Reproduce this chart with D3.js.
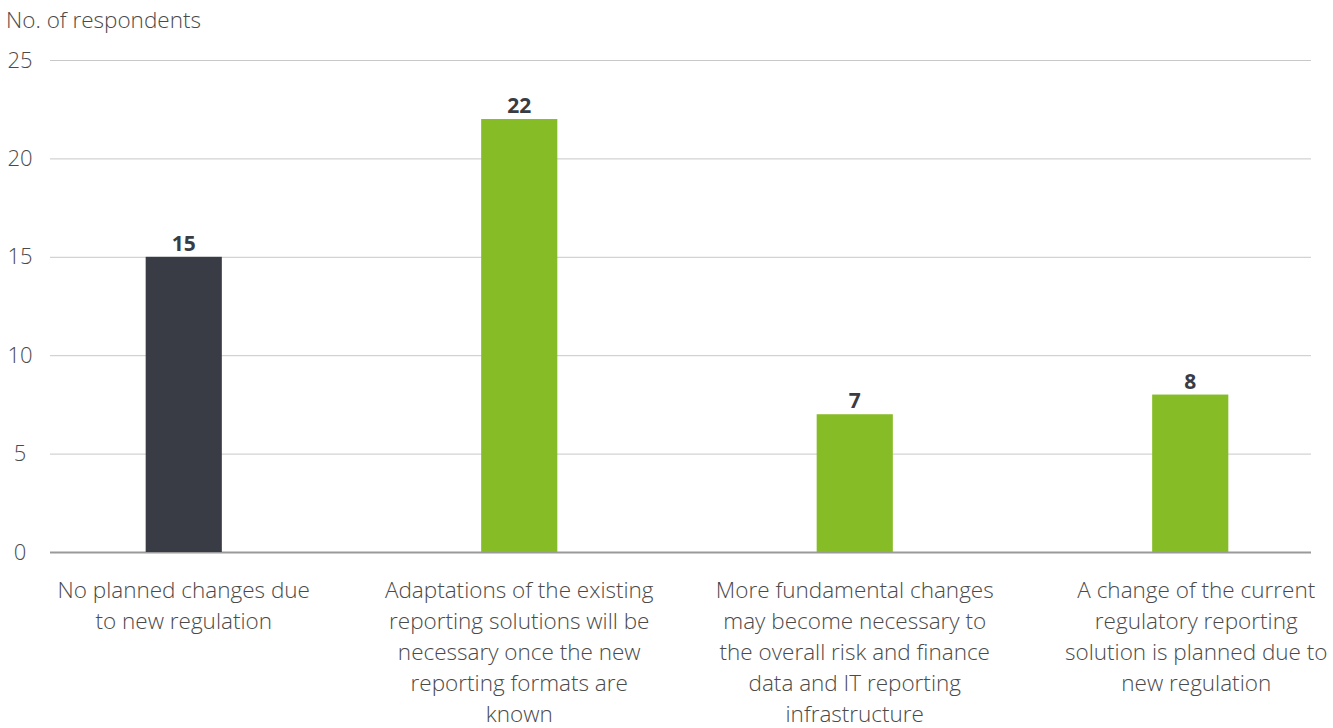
<!DOCTYPE html>
<html>
<head>
<meta charset="utf-8">
<script src="https://cdn.jsdelivr.net/npm/d3@7"></script>
<style>
  body { margin: 0; background: #fff; }
  svg text { font-family: "Open Sans", sans-serif; }
</style>
</head>
<body>
<svg id="chart" width="1333" height="728"></svg>
<script>
// data
var categories = [
  ["No planned changes due", "to new regulation"],
  ["Adaptations of the existing", "reporting solutions will be", "necessary once the new", "reporting formats are", "known"],
  ["More fundamental changes", "may become necessary to", "the overall risk and finance", "data and IT reporting", "infrastructure"],
  ["A change of the current", "regulatory reporting", "solution is planned due to", "new regulation"]
]
var values = [15, 22, 7, 8]
var barColors = ["#393c44", "#86bc25", "#86bc25", "#86bc25"]
var yTicks = [0, 5, 10, 15, 20, 25]

var svg = d3.select('#chart')
var x = d3.scaleBand().domain(d3.range(values.length)).range([16, 1358]).paddingInner(0.773).paddingOuter(0.3865)
var y = d3.scaleLinear().domain([0, 25]).range([552, 60])

// axis title
svg.append('text')
    .attr('x', 6).attr('y', 28)
    .attr('font-size', 22.5).attr('font-weight', 300)
    .attr('fill', '#4a4a4a')
    .text('No. of respondents')

// gridlines + tick labels
var grid = svg.append('g')
    .attr('transform', 'translate(50,0)')
    .call(d3.axisLeft(y).tickValues(yTicks).tickSize(-1261).tickPadding(20))
grid.select('.domain').remove()
grid.selectAll('.tick line').attr('stroke', function(d) { return d ? '#c8c8c8' : '#9a9a9a' }).attr('stroke-width', function(d) { return d ? 1 : 2 })
grid.selectAll('.tick text')
    .attr('font-family', '"Open Sans", sans-serif')
    .attr('font-size', 22).attr('font-weight', 300)
    .attr('fill', '#4a4a4a').attr('text-anchor', 'middle').attr('x', -30)

// bars
svg.selectAll('rect.bar')
    .data(values)
    .enter().append('rect')
    .attr('class', 'bar')
    .attr('x', function(d, i) { return x(i) })
    .attr('width', x.bandwidth())
    .attr('y', function(d) { return y(d) })
    .attr('height', function(d) { return y(0) - y(d) })
    .attr('fill', function(d, i) { return barColors[i] })

// value labels
svg.selectAll('text.val')
    .data(values)
    .enter().append('text')
    .attr('class', 'val')
    .attr('x', function(d, i) { return x(i) + x.bandwidth() / 2 })
    .attr('y', function(d) { return y(d) - 6 })
    .attr('text-anchor', 'middle')
    .attr('font-size', 21).attr('font-weight', 700)
    .attr('fill', '#393c44')
    .text(String)

// category labels
var cat = svg.selectAll('text.cat')
    .data(categories)
    .enter().append('text')
    .attr('class', 'cat')
    .attr('text-anchor', 'middle')
    .attr('font-size', 22.5).attr('font-weight', 300)
    .attr('fill', '#4a4a4a')
cat.each(function(lines, i) {
    var t = d3.select(this)
    var cx = x(i) + x.bandwidth() / 2 + (i == 3 ? 6 : 0)
    lines.forEach(function(l, j) {
        t.append('tspan').attr('x', cx).attr('y', 598 + j * 31).text(l)
    })
})
</script>
</body>
</html>
